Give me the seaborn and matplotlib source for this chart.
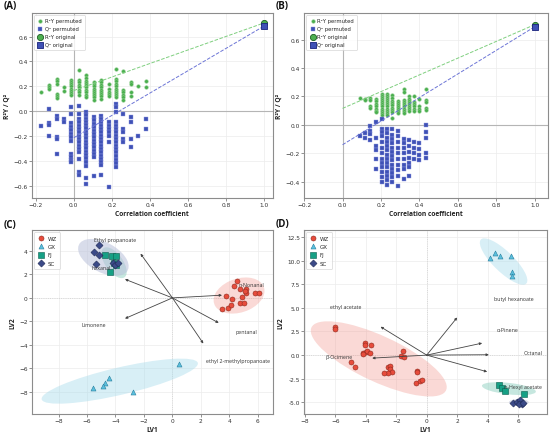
import matplotlib
matplotlib.use("Agg")
import matplotlib.pyplot as plt
import matplotlib.ticker
import seaborn as sns
import pandas as pd
from matplotlib.patches import Ellipse

# ---------------- Panel A data (permutation test) ----------------
A_x = [-0.17, -0.13, -0.09, -0.052, -0.013, 0.027, 0.066, 0.105, 0.143, 0.183, 0.221, 0.259, 0.298, 0.337, 0.377]
A_r2 = [
    [0.155],
    [0.21, 0.195, 0.18],
    [0.26, 0.24, 0.22, 0.14, 0.12, 0.105],
    [0.19, 0.16],
    [0.25, 0.23, 0.215, 0.20, 0.18, 0.165, 0.145, 0.13],
    [0.33, 0.25, 0.23, 0.21, 0.19, 0.17, 0.15, 0.13],
    [0.29, 0.27, 0.245, 0.225, 0.21, 0.19, 0.17, 0.15, 0.13, 0.11],
    [0.235, 0.22, 0.20, 0.18, 0.165, 0.145, 0.13, 0.11, 0.09],
    [0.25, 0.23, 0.21, 0.19, 0.17, 0.155, 0.14, 0.12, 0.10],
    [0.22, 0.18, 0.155, 0.14, 0.12],
    [0.34, 0.26, 0.24, 0.22, 0.20, 0.18, 0.165, 0.145, 0.13, 0.11],
    [0.325, 0.17, 0.15, 0.13, 0.11, 0.09],
    [0.235, 0.22, 0.155, 0.125],
    [0.20],
    [0.245, 0.195],
]
A_q2 = [
    [-0.117],
    [0.015, -0.10, -0.115, -0.20],
    [-0.037, -0.065, -0.205, -0.225, -0.345],
    [-0.064, -0.09],
    [0.03, -0.025, -0.10, -0.125, -0.155, -0.185, -0.21, -0.24, -0.345, -0.37, -0.39, -0.41],
    [0.044, -0.023, -0.064, -0.09, -0.117, -0.144, -0.17, -0.198, -0.225, -0.252, -0.279, -0.306, -0.332, -0.386, -0.494, -0.513],
    [-0.01, -0.035, -0.06, -0.09, -0.115, -0.14, -0.17, -0.195, -0.22, -0.25, -0.275, -0.30, -0.33, -0.355, -0.38, -0.41, -0.44, -0.535, -0.585],
    [-0.05, -0.075, -0.105, -0.13, -0.16, -0.185, -0.21, -0.24, -0.265, -0.29, -0.32, -0.345, -0.37, -0.52],
    [-0.04, -0.065, -0.09, -0.12, -0.145, -0.17, -0.20, -0.225, -0.25, -0.28, -0.305, -0.33, -0.36, -0.385, -0.41, -0.435, -0.515],
    [-0.09, -0.117, -0.144, -0.17, -0.198, -0.252, -0.615],
    [0.057, 0.03, -0.01, -0.09, -0.12, -0.145, -0.17, -0.20, -0.225, -0.25, -0.28, -0.305, -0.33, -0.36, -0.39, -0.42, -0.45],
    [-0.023, -0.144, -0.17, -0.225, -0.252],
    [-0.05, -0.09, -0.225, -0.29],
    [-0.198],
    [-0.064, -0.144],
]
A_orig = [0.71, 0.685]          # R2Y original, Q2 original
A_r2_line = [0.165, 0.71]       # at x = 0 and x = 1
A_q2_line = [-0.215, 0.685]

# ---------------- Panel B data (permutation test) ----------------
B_x = [0.093, 0.119, 0.145, 0.175, 0.205, 0.232, 0.26, 0.29, 0.318, 0.348, 0.374, 0.40, 0.436]
B_r2 = [
    [0.19],
    [0.185, 0.175],
    [0.19, 0.175, 0.13, 0.12],
    [0.18, 0.165, 0.15, 0.13, 0.115, 0.10, 0.09],
    [0.22, 0.205, 0.19, 0.175, 0.16, 0.145, 0.13, 0.115, 0.10, 0.085, 0.07],
    [0.22, 0.205, 0.19, 0.175, 0.16, 0.145, 0.13, 0.115, 0.10, 0.085, 0.07],
    [0.21, 0.19, 0.17, 0.155, 0.14, 0.12, 0.105, 0.09, 0.05],
    [0.17, 0.155, 0.14, 0.125, 0.11, 0.095, 0.08],
    [0.25, 0.23, 0.175, 0.16, 0.145, 0.13, 0.115, 0.10, 0.085],
    [0.20, 0.185, 0.17, 0.155, 0.14, 0.125, 0.11, 0.095],
    [0.20, 0.16, 0.145, 0.13, 0.115, 0.10],
    [0.18, 0.13, 0.115, 0.10],
    [0.25, 0.175, 0.16, 0.12, 0.105],
]
B_q2 = [
    [-0.08],
    [-0.055, -0.095],
    [-0.005, -0.04, -0.065, -0.11],
    [0.02, -0.09, -0.15, -0.18, -0.24, -0.31],
    [0.04, -0.03, -0.05, -0.08, -0.12, -0.16, -0.20, -0.24, -0.27, -0.30, -0.33, -0.37, -0.40],
    [-0.03, -0.06, -0.09, -0.12, -0.15, -0.18, -0.21, -0.24, -0.27, -0.30, -0.33, -0.36, -0.39, -0.42],
    [-0.03, -0.07, -0.10, -0.13, -0.16, -0.19, -0.22, -0.25, -0.28, -0.31, -0.34, -0.37, -0.40],
    [-0.04, -0.08, -0.12, -0.16, -0.20, -0.24, -0.28, -0.32, -0.36, -0.43],
    [-0.10, -0.13, -0.16, -0.20, -0.24, -0.28, -0.31, -0.38],
    [-0.11, -0.15, -0.19, -0.23, -0.27, -0.30, -0.36],
    [-0.12, -0.16, -0.20, -0.24],
    [-0.13, -0.17, -0.21, -0.25],
    [0.0, -0.05, -0.09, -0.20, -0.23],
]
B_orig = [0.705, 0.69]
B_r2_line = [0.116, 0.705]
B_q2_line = [-0.14, 0.69]
line_x = [0.0, 1.0]

# ---------------- Panel C data (PLS-DA biplot) ----------------
groups = ["WZ", "GX", "FJ", "SC"]
C_WZ_x = [4.53, 4.32, 4.72, 5.14, 5.18, 3.74, 4.90, 5.77, 6.05, 4.18, 3.50, 3.90, 4.09, 4.76, 5.00, 5.10]
C_WZ_y = [1.45, 1.02, 0.74, 0.74, 0.45, 0.17, 0.11, 0.45, 0.40, -0.11, -0.91, -0.82, -0.62, -0.40, -0.40, 0.60]
C_GX_x = [0.45, -2.75, -4.45, -4.73, -4.90, -5.60]
C_GX_y = [-5.65, -8.06, -6.87, -7.29, -7.55, -7.72]
C_FJ_x = [-4.73, -4.22, -3.96, -4.38, -3.94, -4.13]
C_FJ_y = [3.66, 3.57, 3.60, 2.20, 2.80, 3.00]
C_SC_x = [-5.13, -5.50, -5.13, -5.39, -4.15, -4.03, -3.80]
C_SC_y = [4.48, 3.94, 3.63, 2.92, 3.00, 2.80, 3.00]
# ellipses: centre x, centre y, width, height, angle
C_ell_WZ = [4.68, 0.2, 3.8, 2.8, 30]
C_ell_GX = [-3.7, -7.1, 11.4, 2.3, 16]
C_ell_SC = [-4.85, 3.45, 4.1, 2.4, -38]
C_ell_FJ = [-4.1, 3.0, 2.9, 1.3, -62]
C_arrow_x = [-2.24, -3.33, 3.48, -3.33, 3.25, 2.17]
C_arrow_y = [3.77, 1.59, 0.23, -1.76, -2.13, -3.89]
C_labels = ["Ethyl propanoate", "hexanal", "n-Nonanal", "Limonene", "pentanal", "ethyl 2-methylpropanoate"]
C_label_x = [-4.0, -4.97, 5.58, -5.5, 5.18, 4.62]
C_label_y = [5.0, 2.58, 1.16, -2.3, -2.9, -5.3]

# ---------------- Panel D data (PLS-DA biplot) ----------------
D_WZ_x = [-6.05, -6.0, -4.08, -4.08, -3.69, -4.17, -4.0, -3.9, -3.7, -4.2, -5.0, -4.72, -1.54, -1.68, -1.48,
          -2.55, -2.44, -2.38, -2.3, -2.55, -2.8, -0.63, -0.63, -0.7, -0.47, -0.34]
D_WZ_y = [3.0, 2.8, 1.27, 1.06, 1.1, 0.21, 0.35, 0.45, 0.2, 0.07, -0.7, -1.3, 0.39, -0.07, -0.25,
          -1.3, -1.2, -1.48, -1.8, -1.9, -1.9, -1.65, -1.83, -2.9, -2.7, -2.6]
D_GX_x = [4.19, 4.47, 4.80, 5.54, 5.61, 5.61]
D_GX_y = [10.32, 10.77, 10.5, 10.5, 8.84, 8.38]
D_FJ_x = [4.78, 4.95, 5.13, 6.42]
D_FJ_y = [-3.17, -3.52, -3.77, -4.08]
D_SC_x = [5.7, 5.95, 6.1, 6.25, 6.05, 6.35]
D_SC_y = [-5.1, -5.0, -4.8, -5.15, -5.2, -5.05]
D_ell_WZ = [-3.15, -0.4, 11.2, 4.2, -40.6]
D_ell_GX = [5.05, 9.9, 5.6, 1.6, -60]
D_ell_FJ = [5.4, -3.55, 3.6, 1.2, -11]
D_ell_SC = [6.05, -5.0, 1.3, 0.7, 0]
D_arrow_x = [2.0, -3.03, 3.64, 4.08, -3.58, 3.97]
D_arrow_y = [3.98, 3.0, 1.27, 0.04, -0.32, -1.76]
D_labels = ["butyl hexanoate", "ethyl acetate", "α-Pinene", "Octanal", "β-Ocimene", "n-Hexyl acetate"]
D_label_x = [5.72, -5.33, 5.35, 6.97, -5.77, 6.31]
D_label_y = [6.02, 5.14, 2.68, 0.28, -0.18, -3.35]

# ---------------- styling ----------------
GREEN = "#4caf50"
BLUE = "#3f51b5"
grp_color = {"WZ": "#e74c3c", "GX": "#5bc0de", "FJ": "#16a085", "SC": "#3b4a88"}
grp_edge = {"WZ": "#8e2a1f", "GX": "#2a7f9e", "FJ": "#0b5e4e", "SC": "#1f2a55"}
grp_marker = {"WZ": "o", "GX": "^", "FJ": "s", "SC": "D"}
ell_color = {"WZ": ("#f1948a", 0.35), "GX": ("#a9dcec", 0.45), "FJ": ("#8fd0c0", 0.5), "SC": ("#b9c0da", 0.55)}

sns.set_theme(style="whitegrid")
plt.rcParams["font.family"] = ["DejaVu Sans"]
LABEL_FONT = ["Open Sans", "DejaVu Sans"]

fig = plt.figure(figsize=(5.5, 4.35), dpi=100)
axA = fig.add_axes([0.058, 0.5425, 0.438, 0.4255])
axB = fig.add_axes([0.553, 0.5425, 0.443, 0.4255])
axC = fig.add_axes([0.058, 0.046, 0.438, 0.423])
axD = fig.add_axes([0.553, 0.046, 0.4415, 0.423])


def style_axes(ax):
    for sp in ax.spines.values():
        sp.set_color("#8c8c8c")
        sp.set_linewidth(0.8)
    ax.grid(True, color="#ececec", linewidth=0.5)
    ax.set_axisbelow(True)
    ax.tick_params(labelsize=4.2, length=2, width=0.5, color="#666666", pad=1, labelcolor="#333333",
                   bottom=True, left=True)


def perm_panel(ax, xs, r2cols, q2cols, orig, r2line, q2line, xlim, ylim, yticks):
    dfr = pd.DataFrame([(x, y) for x, c in zip(xs, r2cols) for y in c], columns=["x", "y"])
    dfq = pd.DataFrame([(x, y) for x, c in zip(xs, q2cols) for y in c], columns=["x", "y"])
    ax.axhline(0, color="#b5b5b5", lw=0.8, zorder=1)
    ax.axvline(0, color="#b5b5b5", lw=0.8, zorder=1)
    sns.scatterplot(data=dfr, x="x", y="y", marker="o", s=7, color=GREEN, edgecolor="#9bd49b",
                    linewidth=0.3, ax=ax, label="R²Y permuted", zorder=3)
    sns.scatterplot(data=dfq, x="x", y="y", marker="s", s=7, color=BLUE, edgecolor="#8e97e2",
                    linewidth=0.3, ax=ax, label="Q² permuted", zorder=3)
    sns.scatterplot(x=[1.0], y=[orig[0]], marker="o", s=20, color=GREEN, edgecolor="#1b5e20",
                    linewidth=0.6, ax=ax, label="R²Y original", zorder=5)
    sns.scatterplot(x=[1.0], y=[orig[1]], marker="s", s=20, color=BLUE, edgecolor="#1a237e",
                    linewidth=0.6, ax=ax, label="Q² original", zorder=5)
    ax.plot(line_x, r2line, ls="--", color="#7fcf7f", lw=0.7, zorder=4)
    ax.plot(line_x, q2line, ls="--", color="#6c75d6", lw=0.7, zorder=4)
    ax.set_xlim(*xlim)
    ax.set_ylim(*ylim)
    ax.set_xticks([-0.2, 0.0, 0.2, 0.4, 0.6, 0.8, 1.0])
    ax.set_yticks(yticks)
    style_axes(ax)
    ax.set_xlabel("Correlation coefficient", fontsize=4.8, fontweight="bold", family=LABEL_FONT,
                  labelpad=2, color="#222222")
    ax.set_ylabel("R²Y / Q²", fontsize=4.8, fontweight="bold", family=LABEL_FONT, labelpad=2, color="#222222")
    leg = ax.legend(loc="upper left", fontsize=3.8, frameon=True, borderpad=0.6, labelspacing=0.55,
                    handletextpad=0.3, markerscale=1.0, borderaxespad=0.4, handlelength=1.2)
    leg.get_frame().set_edgecolor("#cccccc")
    leg.get_frame().set_linewidth(0.5)


perm_panel(axA, A_x, A_r2, A_q2, A_orig, A_r2_line, A_q2_line, (-0.22, 1.045), (-0.70, 0.79),
           [-0.6, -0.4, -0.2, 0.0, 0.2, 0.4, 0.6])
perm_panel(axB, B_x, B_r2, B_q2, B_orig, B_r2_line, B_q2_line, (-0.196, 1.069), (-0.515, 0.788),
           [-0.4, -0.2, 0.0, 0.2, 0.4, 0.6])


def biplot(ax, pts, ells, ax_x, ax_y, labels, lab_x, lab_y, xlim, ylim, xticks, yticks):
    ax.axhline(0, color="#d0d0d0", lw=0.6, ls=":", zorder=1)
    ax.axvline(0, color="#d0d0d0", lw=0.6, ls=":", zorder=1)
    for g in groups:
        cx, cy, w, h, ang = ells[g]
        col, al = ell_color[g]
        ax.add_patch(Ellipse((cx, cy), w, h, angle=ang, facecolor=col, alpha=al, edgecolor="none", zorder=2))
    rows = []
    for g in groups:
        for x, y in zip(*pts[g]):
            rows.append((x, y, g))
    df = pd.DataFrame(rows, columns=["LV1", "LV2", "group"])
    for g in groups:
        sns.scatterplot(data=df[df.group == g], x="LV1", y="LV2", marker=grp_marker[g], s=13,
                        color=grp_color[g], edgecolor=grp_edge[g], linewidth=0.4, ax=ax, label=g, zorder=4)
    for x, y in zip(ax_x, ax_y):
        ax.annotate("", xy=(x, y), xytext=(0, 0),
                    arrowprops=dict(arrowstyle="-|>", color="#444444", lw=0.6, mutation_scale=3.5,
                                    shrinkA=0, shrinkB=0), zorder=5)
    for t, x, y in zip(labels, lab_x, lab_y):
        ax.text(x, y, t, fontsize=3.8, ha="center", va="center", color="#333333", family=LABEL_FONT, zorder=6)
    ax.set_xlim(*xlim)
    ax.set_ylim(*ylim)
    ax.set_xticks(xticks)
    ax.set_yticks(yticks)
    style_axes(ax)
    ax.set_xlabel("LV1", fontsize=4.8, fontweight="bold", family=LABEL_FONT, labelpad=2, color="#222222")
    ax.set_ylabel("LV2", fontsize=4.8, fontweight="bold", family=LABEL_FONT, labelpad=2, color="#222222")
    leg = ax.legend(loc="upper left", fontsize=4.0, frameon=True, borderpad=0.6, labelspacing=0.6,
                    handletextpad=0.6, borderaxespad=0.4, handlelength=1.2)
    leg.get_frame().set_edgecolor("#cccccc")
    leg.get_frame().set_linewidth(0.5)


biplot(axC,
       {"WZ": (C_WZ_x, C_WZ_y), "GX": (C_GX_x, C_GX_y), "FJ": (C_FJ_x, C_FJ_y), "SC": (C_SC_x, C_SC_y)},
       {"WZ": C_ell_WZ, "GX": C_ell_GX, "FJ": C_ell_FJ, "SC": C_ell_SC},
       C_arrow_x, C_arrow_y, C_labels, C_label_x, C_label_y,
       (-9.87, 7.05), (-9.9, 5.79), [-8, -6, -4, -2, 0, 2, 4, 6], [-8, -6, -4, -2, 0, 2, 4])
biplot(axD,
       {"WZ": (D_WZ_x, D_WZ_y), "GX": (D_GX_x, D_GX_y), "FJ": (D_FJ_x, D_FJ_y), "SC": (D_SC_x, D_SC_y)},
       {"WZ": D_ell_WZ, "GX": D_ell_GX, "FJ": D_ell_FJ, "SC": D_ell_SC},
       D_arrow_x, D_arrow_y, D_labels, D_label_x, D_label_y,
       (-8.05, 7.9), (-6.23, 13.24), [-8, -6, -4, -2, 0, 2, 4, 6],
       [-5.0, -2.5, 0.0, 2.5, 5.0, 7.5, 10.0, 12.5])
axD.yaxis.set_major_formatter(matplotlib.ticker.FormatStrFormatter("%.1f"))

for t, (x, y) in zip(["(A)", "(B)", "(C)", "(D)"], [(4, 428), (276, 428), (4, 209), (276, 210)]):
    fig.text(x / 550, y / 435, t, fontsize=7, fontweight="bold", family=LABEL_FONT, color="#111111",
             ha="left", va="center")

fig.savefig("out.png", dpi=100)
